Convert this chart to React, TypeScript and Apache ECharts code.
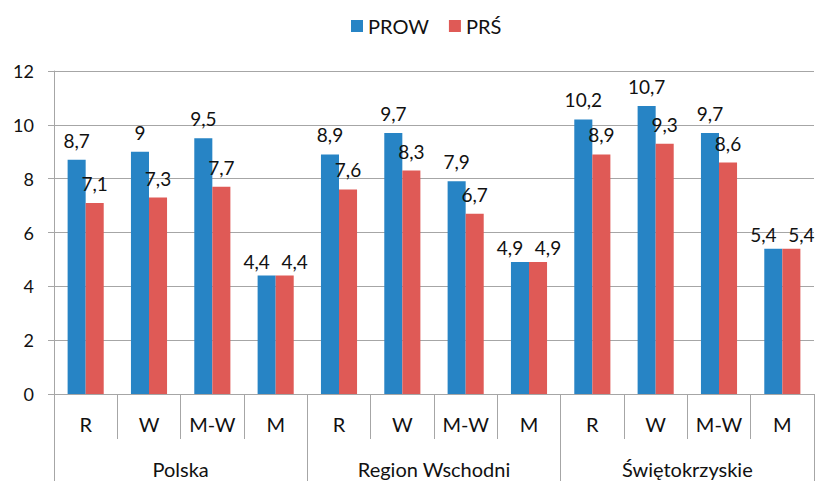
import React, { useEffect, useRef } from "react";
import * as echarts from "echarts";

const subCategories = ["R", "W", "M-W", "M", "R", "W", "M-W", "M", "R", "W", "M-W", "M"];
const groups = ["Polska", "Region Wschodni", "Świętokrzyskie"];
const prowValues = [8.7, 9, 9.5, 4.4, 8.9, 9.7, 7.9, 4.9, 10.2, 10.7, 9.7, 5.4];
const prsValues = [7.1, 7.3, 7.7, 4.4, 7.6, 8.3, 6.7, 4.9, 8.9, 9.3, 8.6, 5.4];
const seriesNames = ["PROW", "PRŚ"];
const yTicks = { min: 0, max: 12, interval: 2 };

const FONT = "Lato, 'Open Sans', sans-serif";
const fmt = (v: number) => String(v).replace(".", ",");

function buildData(values: number[], shiftX: number) {
  return values.map((v, i) =>
    subCategories[i] === "M"
      ? { value: v, label: { offset: [shiftX, 0], distance: 5 } }
      : { value: v }
  );
}

export default function App() {
  const ref = useRef<HTMLDivElement>(null);
  useEffect(() => {
    if (!ref.current) return;
    const chart = echarts.init(ref.current, undefined, { renderer: "svg" });
    const labelCfg = {
      show: true,
      position: "top" as const,
      distance: 10,
      fontSize: 19,
      fontFamily: FONT,
      color: "#111",
      formatter: (p: any) => fmt(p.value),
    };
    chart.setOption({
      animation: false,
      textStyle: { fontFamily: FONT },
      legend: {
        top: 11,
        left: 346,
        itemWidth: 12,
        itemHeight: 12,
        itemGap: 20,
        icon: "rect",
        textStyle: { fontSize: 20, color: "#111", fontFamily: FONT },
        data: seriesNames,
      },
      grid: { left: 54, right: 3, top: 71, bottom: 87, containLabel: false },
      xAxis: [
        {
          type: "category",
          data: subCategories,
          axisLine: { show: true, lineStyle: { color: "#a6a6a6" } },
          axisTick: { show: true, length: 45, interval: 0, lineStyle: { color: "#a6a6a6" } },
          axisLabel: { interval: 0, margin: 20, fontSize: 20, color: "#111", fontFamily: FONT },
        },
        {
          type: "category",
          position: "bottom",
          data: groups,
          axisLine: { show: false },
          axisTick: { show: true, length: 95, interval: 0, lineStyle: { color: "#a6a6a6" } },
          axisLabel: { interval: 0, margin: 65, fontSize: 20, color: "#111", fontFamily: FONT },
        },
      ],
      yAxis: {
        type: "value",
        min: yTicks.min,
        max: yTicks.max,
        interval: yTicks.interval,
        axisLine: { show: true, lineStyle: { color: "#a6a6a6" } },
        axisTick: { show: true, length: 6, lineStyle: { color: "#a6a6a6" } },
        axisLabel: { margin: 20, fontSize: 18, color: "#111", fontFamily: FONT },
        splitLine: { show: true, lineStyle: { color: "#a6a6a6" } },
      },
      series: [
        {
          name: seriesNames[0],
          type: "bar",
          data: buildData(prowValues, -10),
          itemStyle: { color: "#2784c5" },
          barGap: "0%",
          barCategoryGap: "43%",
          label: labelCfg,
        },
        {
          name: seriesNames[1],
          type: "bar",
          data: buildData(prsValues, 10),
          itemStyle: { color: "#df5a56" },
          barGap: "0%",
          barCategoryGap: "43%",
          label: labelCfg,
        },
      ],
    });
    return () => chart.dispose();
  }, []);
  return <div ref={ref} style={{ width: 817, height: 481, position: "absolute", left: 0, top: 0 }} />;
}
